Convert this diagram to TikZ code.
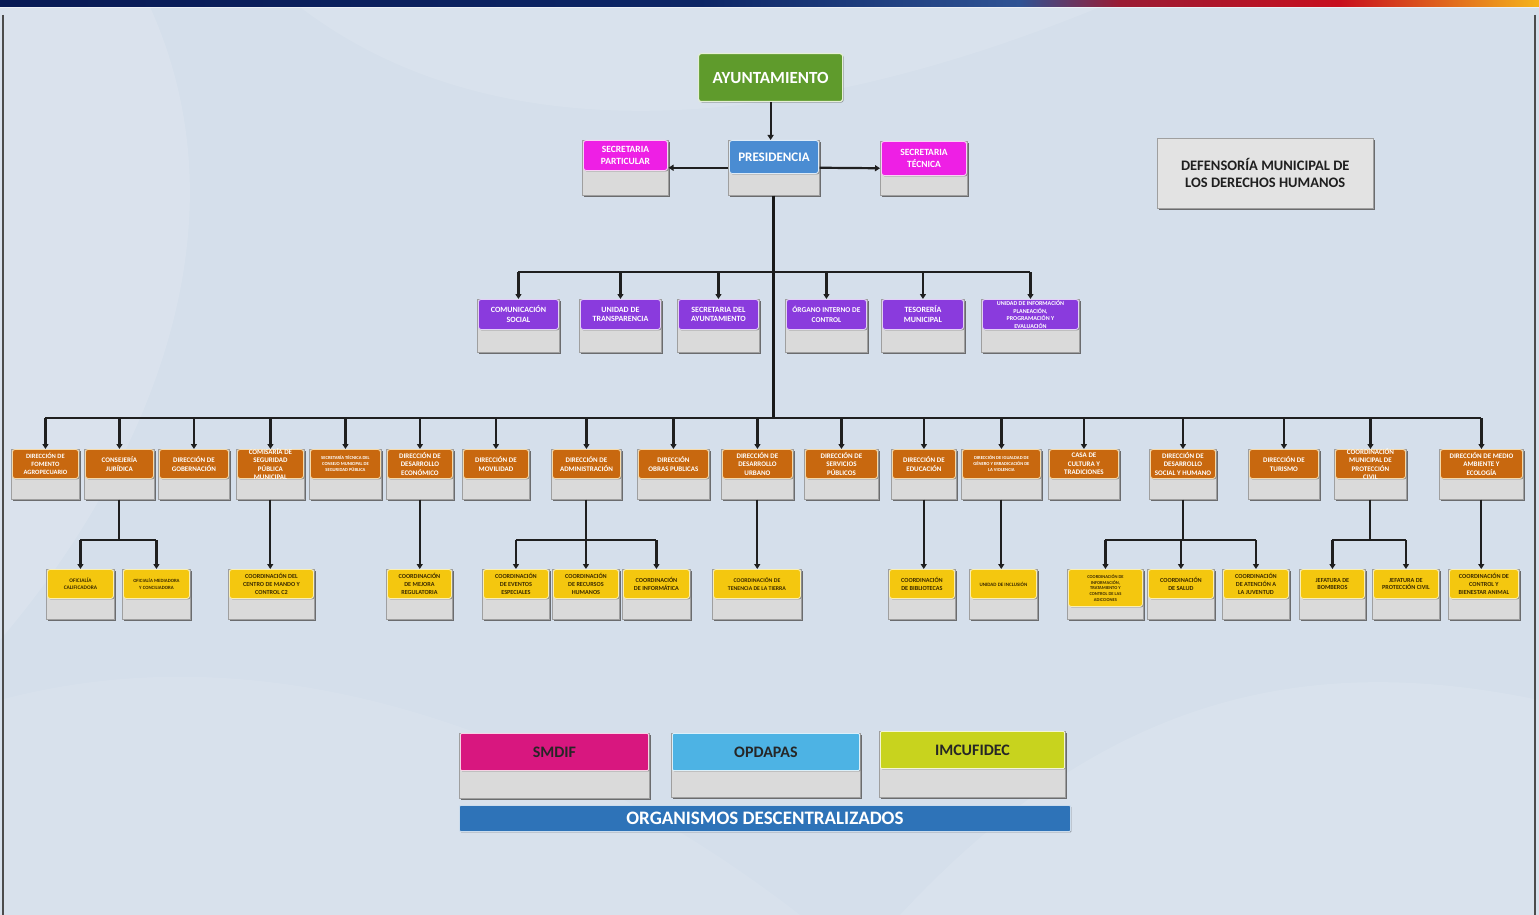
\documentclass[tikz,border=0pt]{standalone}
\usepackage{fontspec}
\setmainfont{Carlito}
\usetikzlibrary{arrows.meta,shadows}
\definecolor{bg}{HTML}{D5DFEB}
\definecolor{boxgray}{HTML}{DADADA}
\definecolor{cgrn}{HTML}{5F9B2C}\definecolor{bgrn}{HTML}{E6F0D6}
\definecolor{cblu}{HTML}{4A8CD2}\definecolor{bblu}{HTML}{DDEBF8}
\definecolor{cmag}{HTML}{EE1FE5}\definecolor{bmag}{HTML}{F9D0F5}
\definecolor{cpur}{HTML}{8A3BDD}\definecolor{bpur}{HTML}{E3D0F7}
\definecolor{corg}{HTML}{C8680F}\definecolor{borg}{HTML}{F6D9A8}
\definecolor{cyel}{HTML}{F4C70F}\definecolor{byel}{HTML}{FBEFB0}
\definecolor{ytext}{HTML}{3B2A00}
\definecolor{csmd}{HTML}{D8177F}
\definecolor{copd}{HTML}{4DB3E4}
\definecolor{cimc}{HTML}{C8D31E}
\definecolor{corgs}{HTML}{2E73B8}
\definecolor{barA}{HTML}{081A55}\definecolor{barB}{HTML}{0D2666}
\definecolor{barC}{HTML}{2F5394}\definecolor{barD}{HTML}{9A1B33}
\definecolor{barE}{HTML}{C80F1E}\definecolor{barF}{HTML}{F5B41C}
\tikzset{
 conn/.style={line width=2.2pt, draw=black!88},
 arr/.style={conn, -{Triangle[length=5pt,width=6pt]}},
 trunk/.style={line width=3pt, draw=black!90},
 grayb/.style={draw=gray!75, line width=0.5pt, fill=boxgray, inner sep=0pt,
   drop shadow={shadow xshift=1.8pt, shadow yshift=-1.8pt, fill=black!65, opacity=0.85}},
 cbase/.style={rounded corners=2.5pt, line width=0.9pt, inner sep=0pt,
   drop shadow={shadow xshift=1pt, shadow yshift=-1pt, opacity=0.35, fill=black}},
 tbase/.style={align=center, inner sep=0pt},
 grnbox/.style={cbase, fill=cgrn, draw=bgrn, line width=1.2pt},
 grntxt/.style={tbase, text=white, font=\bfseries\fontsize{17}{20}\selectfont},
 blubox/.style={cbase, fill=cblu, draw=bblu},
 blutxt/.style={tbase, text=white, font=\bfseries\fontsize{13}{15}\selectfont},
 magbox/.style={cbase, fill=cmag, draw=bmag},
 magtxt/.style={tbase, text=white, font=\bfseries\fontsize{9.5}{11.5}\selectfont},
 purbox/.style={cbase, fill=cpur, draw=bpur},
 purtxt/.style={tbase, text=white, font=\bfseries\fontsize{8}{9.8}\selectfont},
 orgbox/.style={cbase, fill=corg, draw=borg},
 orgtxt/.style={tbase, text=white, font=\bfseries\fontsize{7}{8.3}\selectfont},
 yelbox/.style={cbase, fill=cyel, draw=byel},
 yeltxt/.style={tbase, text=ytext, font=\bfseries\fontsize{6.2}{7.8}\selectfont},
 smdbox/.style={cbase, rounded corners=1pt, fill=csmd, draw=white!80!csmd},
 smdtxt/.style={tbase, text=black!85, font=\bfseries\fontsize{16}{19}\selectfont},
 opdbox/.style={cbase, rounded corners=1pt, fill=copd, draw=white!80!copd},
 opdtxt/.style={tbase, text=black!85, font=\bfseries\fontsize{16}{19}\selectfont},
 imcbox/.style={cbase, rounded corners=1pt, fill=cimc, draw=white!80!cimc},
 imctxt/.style={tbase, text=black!85, font=\bfseries\fontsize{16}{19}\selectfont},
}
% #1 extra text options, #2 name, #3 kind, #4 xl, #5 xr, #6 ytop, #7 ycolour bottom, #8 ygray bottom, #9 text
\newcommand{\ob}[9][]{%
 \node[grayb, minimum width={#5-#4+2}, minimum height={#8-#6}, anchor=north west] (#2-g) at ({#4-1},#6) {};
 \node[#3box, minimum width={#5-#4}, minimum height={#7-#6}, anchor=north west] (#2) at (#4,#6) {};
 \node[#3txt, #1] (#2-t) at (#2.center) {#9};
}
\begin{document}
\begin{tikzpicture}[x=1pt,y=-1pt]
\useasboundingbox (0,0) rectangle (1539,915);
% background
\fill[bg] (0,0) rectangle (1539,915);
\fill[white,opacity=0.12] (150,7) .. controls (260,250) and (120,500) .. (0,640) -- (0,7) -- cycle;
\fill[white,opacity=0.10] (300,7) .. controls (500,160) and (800,130) .. (1100,7) -- cycle;
\fill[white,opacity=0.10] (900,915) .. controls (1100,700) and (1300,650) .. (1539,700) -- (1539,915) -- cycle;
\fill[white,opacity=0.08] (0,700) .. controls (300,620) and (600,760) .. (800,915) -- (0,915) -- cycle;
% top bar
\shade[left color=barA, right color=barB] (0,0) rectangle (700,7);
\shade[left color=barB, right color=barC] (699.5,0) rectangle (1020,7);
\shade[left color=barC, right color=barD] (1019.5,0) rectangle (1120,7);
\shade[left color=barD, right color=barE] (1119.5,0) rectangle (1340,7);
\shade[left color=barE, right color=barF] (1339.5,0) rectangle (1539,7);
\fill[white,opacity=0.5] (0,7) rectangle (1539,8.5);
% side borders
\draw[gray!60!black, line width=1.3pt] (3,15) -- (3,915);
\draw[gray!60!black, line width=1.3pt] (1535,15) -- (1535,915);

% ---------- top ----------
\node[grnbox, minimum width=144, minimum height=48, anchor=north west] (ayu) at (698,53) {};
\node[grntxt] (ayu-t) at (ayu.center) {AYUNTAMIENTO};
\ob{pres}{blu}{729}{818}{140}{173}{195}{PRESIDENCIA}
\ob{sp}{mag}{583}{667}{140}{170}{195}{SECRETARIA\\PARTICULAR}
\ob{st}{mag}{881}{966}{141}{175}{195}{SECRETARIA\\TÉCNICA}
\node[grayb, fill=gray!22, minimum width=216, minimum height=70, anchor=north west,
  align=center, text=black!88, font=\bfseries\fontsize{14.5}{17}\selectfont] (def) at (1157,138)
  {DEFENSORÍA MUNICIPAL DE\\LOS DERECHOS HUMANOS};

% ---------- purple row ----------
\ob{p1}{pur}{478}{558}{299}{329}{352}{COMUNICACIÓN\\SOCIAL}
\ob{p2}{pur}{580}{660}{299}{329}{352}{UNIDAD DE\\TRANSPARENCIA}
\ob{p3}{pur}{678}{758}{299}{329}{352}{SECRETARIA DEL\\AYUNTAMIENTO}
\ob[font=\bfseries\fontsize{7.4}{9.8}\selectfont]{p4}{pur}{786}{866}{299}{329}{352}{ÓRGANO INTERNO DE\\CONTROL}
\ob{p5}{pur}{882}{963}{299}{329}{352}{TESORERÍA\\MUNICIPAL}
\ob[font=\bfseries\fontsize{6}{7.8}\selectfont]{p6}{pur}{982}{1078}{299}{329}{352}{UNIDAD DE INFORMACIÓN\\PLANEACIÓN,\\PROGRAMACIÓN Y\\EVALUACIÓN}

% ---------- orange row ----------
\ob[font=\bfseries\fontsize{6.5}{8.3}\selectfont]{o1}{org}{12}{78}{449}{478}{499}{DIRECCIÓN DE\\FOMENTO\\AGROPECUARIO}
\ob{o2}{org}{85}{153}{449}{478}{499}{CONSEJERÍA\\JURÍDICA}
\ob{o3}{org}{159}{228}{449}{478}{499}{DIRECCIÓN DE\\GOBERNACIÓN}
\ob{o4}{org}{237}{303}{449}{478}{499}{COMISARÍA DE\\SEGURIDAD\\PÚBLICA\\MUNICIPAL}
\ob[font=\bfseries\fontsize{4.6}{6}\selectfont]{o5}{org}{310}{380}{449}{478}{499}{SECRETARÍA TÉCNICA DEL\\CONSEJO MUNICIPAL DE\\SEGURIDAD PÚBLICA}
\ob{o6}{org}{387}{452}{449}{478}{499}{DIRECCIÓN DE\\DESARROLLO\\ECONÓMICO}
\ob{o7}{org}{463}{528}{449}{478}{499}{DIRECCIÓN DE\\MOVILIDAD}
\ob{o8}{org}{552}{620}{449}{478}{499}{DIRECCIÓN DE\\ADMINISTRACIÓN}
\ob{o9}{org}{638}{708}{449}{478}{499}{DIRECCIÓN\\OBRAS PUBLICAS}
\ob{o10}{org}{722}{792}{449}{478}{499}{DIRECCIÓN DE\\DESARROLLO\\URBANO}
\ob{o11}{org}{805}{877}{449}{478}{499}{DIRECCIÓN DE\\SERVICIOS\\PÚBLICOS}
\ob{o12}{org}{892}{955}{449}{478}{499}{DIRECCIÓN DE\\EDUCACIÓN}
\ob[font=\bfseries\fontsize{4.6}{6}\selectfont]{o13}{org}{962}{1040}{449}{478}{499}{DIRECCIÓN DE IGUALDAD DE\\GÉNERO Y ERRADICACIÓN DE\\LA VIOLENCIA}
\ob{o14}{org}{1049}{1118}{449}{478}{499}{CASA DE\\CULTURA Y\\TRADICIONES}
\ob{o15}{org}{1150}{1215}{449}{478}{499}{DIRECCIÓN DE\\DESARROLLO\\SOCIAL Y HUMANO}
\ob{o16}{org}{1249}{1318}{449}{478}{499}{DIRECCIÓN DE\\TURISMO}
\ob{o17}{org}{1335}{1405}{449}{478}{499}{COORDINACIÓN\\MUNICIPAL DE\\PROTECCIÓN\\CIVIL}
\ob{o18}{org}{1440}{1522}{449}{478}{499}{DIRECCIÓN DE MEDIO\\AMBIENTE Y\\ECOLOGÍA}

% ---------- yellow row ----------
\ob[font=\bfseries\fontsize{5.4}{7}\selectfont]{y1}{yel}{47}{113}{569}{598}{619}{OFICIALÍA\\CALIFICADORA}
\ob[font=\bfseries\fontsize{4.8}{6.5}\selectfont]{y2}{yel}{123}{189}{569}{598}{619}{OFICIALÍA MEDIADORA\\Y CONCILIADORA}
\ob{y3}{yel}{229}{313}{569}{598}{619}{COORDINACIÓN DEL\\CENTRO DE MANDO Y\\CONTROL C2}
\ob{y4}{yel}{387}{451}{569}{598}{619}{COORDINACIÓN\\DE MEJORA\\REGULATORIA}
\ob{y5}{yel}{483}{548}{569}{598}{619}{COORDINACIÓN\\DE EVENTOS\\ESPECIALES}
\ob{y6}{yel}{553}{618}{569}{598}{619}{COORDINACIÓN\\DE RECURSOS\\HUMANOS}
\ob{y7}{yel}{623}{689}{569}{598}{619}{COORDINACIÓN\\DE INFORMÁTICA}
\ob[font=\bfseries\fontsize{5.8}{7.8}\selectfont]{y8}{yel}{713}{800}{569}{598}{619}{COORDINACIÓN DE\\TENENCIA DE LA TIERRA}
\ob{y9}{yel}{889}{954}{569}{598}{619}{COORDINACIÓN\\DE BIBLIOTECAS}
\ob[font=\bfseries\fontsize{5}{6}\selectfont]{y10}{yel}{970}{1036}{569}{598}{619}{UNIDAD DE INCLUSIÓN}
\ob[font=\bfseries\fontsize{4.5}{5.8}\selectfont]{y11}{yel}{1068}{1142}{569}{606}{619}{COORDINACIÓN DE\\INFORMACIÓN,\\TRATAMIENTO Y\\CONTROL DE LAS\\ADICCIONES}
\ob{y12}{yel}{1148}{1213}{569}{598}{619}{COORDINACIÓN\\DE SALUD}
\ob{y13}{yel}{1223}{1288}{569}{598}{619}{COORDINACIÓN\\DE ATENCIÓN A\\LA JUVENTUD}
\ob{y14}{yel}{1300}{1364}{569}{598}{619}{JEFATURA DE\\BOMBEROS}
\ob{y15}{yel}{1373}{1438}{569}{598}{619}{JEFATURA DE\\PROTECCIÓN CIVIL}
\ob{y16}{yel}{1449}{1518}{569}{598}{619}{COORDINACIÓN DE\\CONTROL Y\\BIENESTAR ANIMAL}

% ---------- decentralised bodies ----------
\ob{smd}{smd}{460}{648}{733}{770}{798}{SMDIF}
\ob{opd}{opd}{672}{859}{733}{770}{797}{OPDAPAS}
\ob{imc}{imc}{880}{1064}{731}{768}{797}{IMCUFIDEC}
\node[cbase, rounded corners=1pt, fill=corgs, draw=white!75!corgs, minimum width=611, minimum height=26,
  anchor=north west, text=white, font=\bfseries\fontsize{19}{22}\selectfont] (orgs) at (459,805)
  {ORGANISMOS DESCENTRALIZADOS};

% ---------- connectors ----------
\coordinate (L1) at (0,272);
\coordinate (L2) at (0,418);
\coordinate (L3) at (0,540);
\draw[arr] (ayu.south) -- (ayu.south |- pres-g.north);
\draw[arr] (pres-g.west) -- (sp-g.east);
\draw[arr] (pres-g.east) -- (st-g.west);
\draw[trunk] (pres-g.south) -- (pres-g.south |- L2);
\draw[conn] (p1.north |- L1) -- (p6.north |- L1);
\foreach \n in {p1,p2,p3,p4,p5,p6} \draw[arr] (\n.north |- L1) -- (\n.north);
\draw[conn, line width=2.5pt] (o1.north |- L2) -- (o18.north |- L2);
\foreach \n in {o1,o2,o3,o4,o5,o6,o7,o8,o9,o10,o11,o12,o13,o14,o15,o16,o17,o18}
  \draw[arr] (\n.north |- L2) -- (\n.north);
% branches to yellow row
\draw[conn] (o2-g.south) -- (o2-g.south |- L3);
\draw[conn] (y1.north |- L3) -- (y2.north |- L3);
\draw[arr] (y1.north |- L3) -- (y1.north);
\draw[arr] (y2.north |- L3) -- (y2.north);
\draw[arr] (o4-g.south) -- (o4-g.south |- y3.north);
\draw[arr] (o6-g.south) -- (o6-g.south |- y4.north);
\draw[conn] (o8-g.south) -- (o8-g.south |- L3);
\draw[conn] (y5.north |- L3) -- (y7.north |- L3);
\foreach \n in {y5,y6,y7} \draw[arr] (\n.north |- L3) -- (\n.north);
\draw[arr] (o10-g.south) -- (o10-g.south |- y8.north);
\draw[arr] (o12-g.south) -- (o12-g.south |- y9.north);
\draw[arr] (o13-g.south) -- (o13-g.south |- y10.north);
\draw[conn] (o15-g.south) -- (o15-g.south |- L3);
\draw[conn] (y11.north |- L3) -- (y13.north |- L3);
\foreach \n in {y11,y12,y13} \draw[arr] (\n.north |- L3) -- (\n.north);
\draw[conn] (o17-g.south) -- (o17-g.south |- L3);
\draw[conn] (y14.north |- L3) -- (y15.north |- L3);
\foreach \n in {y14,y15} \draw[arr] (\n.north |- L3) -- (\n.north);
\draw[arr] (o18-g.south) -- (o18-g.south |- y16.north);
\end{tikzpicture}
\end{document}
